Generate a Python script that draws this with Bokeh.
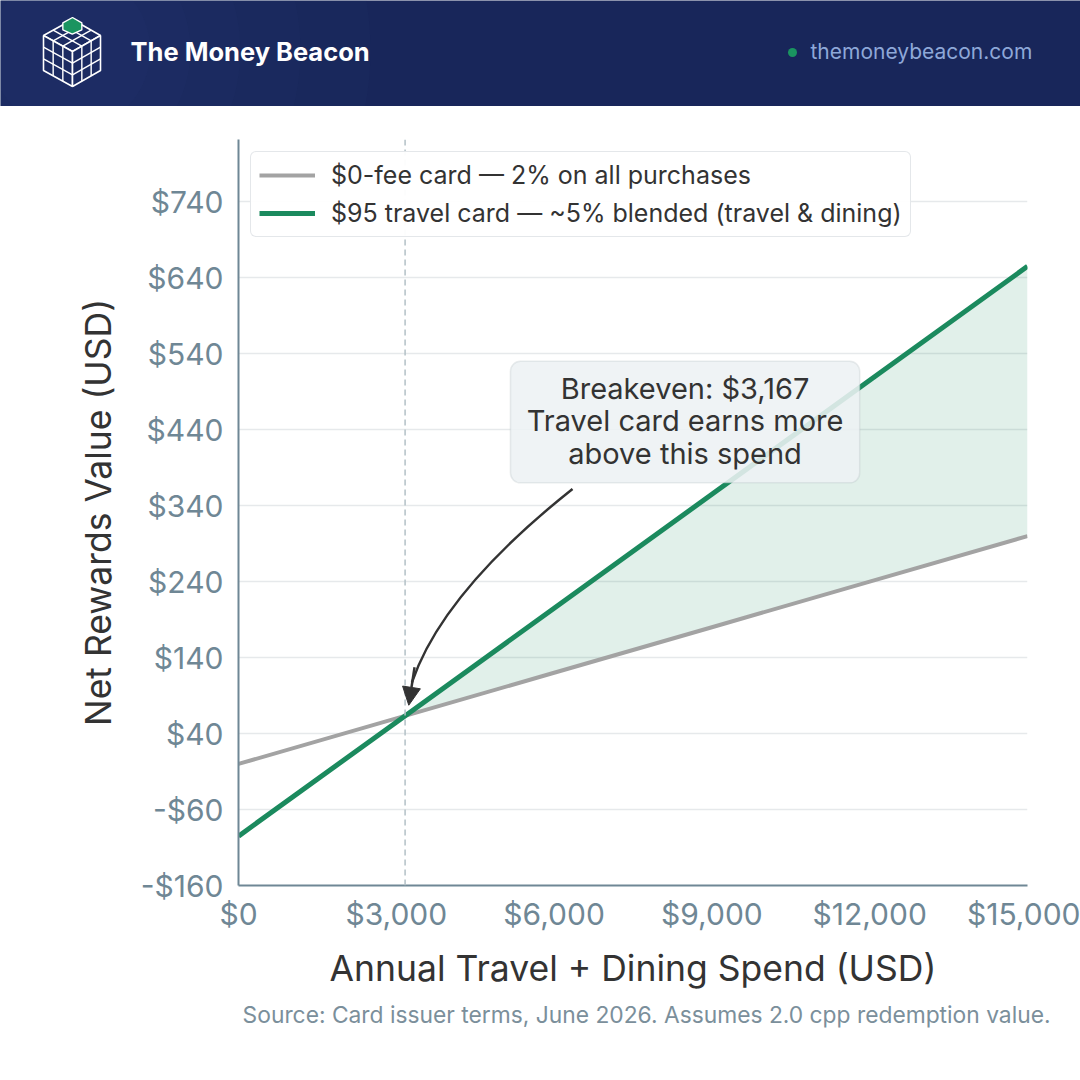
from bokeh.embed import file_html
from bokeh.layouts import column, row
from bokeh.models import (Arrow, BoxAnnotation, FixedTicker, Label, Legend,
                          LegendItem, NormalHead, NumeralTickFormatter, Range1d, Span, Title)
from bokeh.plotting import figure
from bokeh.resources import INLINE

# data
spend = [0, 3000, 6000, 9000, 12000, 15000]
flat_card = [0, 60, 120, 180, 240, 300]
travel_card = [-95, 55, 205, 355, 505, 655]
breakeven_spend = 3167
breakeven_value = 63.3
x_ticks = [0, 3000, 6000, 9000, 12000, 15000]
y_ticks = [-160, -60, 40, 140, 240, 340, 440, 540, 640, 740]

FONT = "Inter"
NAVY = "#18265a"
GREEN = "#1b8a5e"
GRAY = "#a3a3a3"
SLATE = "#6f8795"

# ---------- header ----------
h = figure(width=1080, height=106, x_range=Range1d(0, 1080), y_range=Range1d(106, 0),
           toolbar_location=None, output_backend="svg", min_border=0)
h.axis.visible = False
h.grid.visible = False
h.outline_line_color = None
h.background_fill_color = NAVY
h.border_fill_color = NAVY
for r in [300, 230, 170, 120, 80]:
    h.circle(x=[70], y=[50], radius=r, fill_color="#3a4a80", fill_alpha=0.05, line_color=None)

# isometric cube logo (header pixel coords)
T, L, R, C = (72, 19), (43, 35), (100, 35), (72, 51)
BL, BR, B = (43, 70), (100, 70), (72, 86)


def lerp(a, b, t):
    return (a[0] + (b[0] - a[0]) * t, a[1] + (b[1] - a[1]) * t)


faces = [(T, R, C, L), (L, C, B, BL), (C, R, BR, B)]
for f in faces:
    h.patch([p[0] for p in f], [p[1] for p in f], fill_color="#1c2b62", line_color="white", line_width=1.6)
xs, ys = [], []
for (p0, p1, p2, p3) in faces:
    for k in (1, 2):
        a, b = lerp(p0, p3, k / 3), lerp(p1, p2, k / 3)
        xs.append([a[0], b[0]]); ys.append([a[1], b[1]])
        a, b = lerp(p0, p1, k / 3), lerp(p3, p2, k / 3)
        xs.append([a[0], b[0]]); ys.append([a[1], b[1]])
h.multi_line(xs, ys, line_color="white", line_width=1.4)
g1, g2, g3 = lerp(T, R, 1 / 3), lerp(T, L, 1 / 3), lerp(lerp(T, R, 1 / 3), lerp(L, C, 1 / 3), 1 / 3)
gx = [T[0], g1[0], g1[0], g3[0], g2[0], g2[0]]
gy = [T[1] - 2, g1[1] - 2, g1[1] + 5, g3[1] + 4, g2[1] + 5, g2[1] - 2]
h.patch(gx, gy, fill_color="#1a9460", line_color="white", line_width=1.4)

h.add_layout(Label(x=130, y=51, text="The Money Beacon", text_color="white", text_font=FONT,
                   text_font_style="bold", text_font_size="25.5px", text_baseline="middle"))
h.scatter(x=[792], y=[52], size=9, marker="circle", fill_color="#1a9460", line_color=None)
h.add_layout(Label(x=810, y=51, text="themoneybeacon.com", text_color="#8ea8d8", text_font=FONT,
                   text_font_size="21px", text_baseline="middle"))

# ---------- main chart ----------
p = figure(width=1080, height=974, x_range=Range1d(0, 15000), y_range=Range1d(-160, 822),
           toolbar_location=None, output_backend="svg",
           min_border_left=238, min_border_right=53, min_border_top=33, min_border_bottom=195)
p.outline_line_color = None
p.background_fill_color = "white"
p.border_fill_color = "white"
p.xgrid.visible = False
p.ygrid.ticker = FixedTicker(ticks=y_ticks)
p.ygrid.grid_line_color = "#e6e9eb"
p.ygrid.grid_line_width = 1.5

p.xaxis.ticker = FixedTicker(ticks=x_ticks)
p.yaxis.ticker = FixedTicker(ticks=y_ticks)
p.xaxis.formatter = NumeralTickFormatter(format="$0,0")
p.yaxis.formatter = NumeralTickFormatter(format="$0,0")
for ax in (p.xaxis, p.yaxis):
    ax.axis_line_color = SLATE
    ax.axis_line_width = 2
    ax.major_tick_line_color = None
    ax.minor_tick_line_color = None
    ax.major_label_text_color = SLATE
    ax.major_label_text_font = FONT
    ax.major_label_text_font_size = "30px"
    ax.axis_label_text_font = FONT
    ax.axis_label_text_font_size = "35.5px"
    ax.axis_label_text_color = "#333333"
    ax.axis_label_text_font_style = "normal"
p.xaxis.axis_label = "Annual Travel + Dining Spend (USD)"
p.yaxis.axis_label = "Net Rewards Value (USD)"
p.xaxis.major_label_standoff = 4
p.yaxis.major_label_standoff = 9
p.xaxis.axis_label_standoff = 12
p.yaxis.axis_label_standoff = 18

# shaded advantage region above breakeven
fill_x = [breakeven_spend] + [s for s in spend if s > breakeven_spend]
fill_lo = [breakeven_value] + [v for s, v in zip(spend, flat_card) if s > breakeven_spend]
fill_hi = [breakeven_value] + [v for s, v in zip(spend, travel_card) if s > breakeven_spend]
p.varea(x=fill_x, y1=fill_lo, y2=fill_hi, fill_color=GREEN, fill_alpha=0.13)

p.add_layout(Span(location=breakeven_spend, dimension="height", line_color="#b3c0c6",
                  line_dash="6 4", line_width=1.5))

r_flat = p.line(spend, flat_card, line_color=GRAY, line_width=4)
r_travel = p.line(spend, travel_card, line_color=GREEN, line_width=5)

legend = Legend(items=[LegendItem(label="$0-fee card — 2% on all purchases", renderers=[r_flat]),
                       LegendItem(label="$95 travel card — ~5% blended (travel & dining)", renderers=[r_travel])],
                location="top_left", margin=12, padding=8, spacing=8, glyph_width=56,
                glyph_height=20, label_standoff=16, label_text_font=FONT,
                label_text_font_size="25px", label_text_color="#333333",
                border_line_color="#c9d0d5", border_line_width=1.5, border_radius=6,
                background_fill_alpha=0.95)
p.add_layout(legend)

# annotation box and curved arrow
p.add_layout(BoxAnnotation(left=5170, right=11810, bottom=370, top=530, fill_color="#edf1f4",
                           fill_alpha=0.88, line_color="#b7bfc5", line_width=1.5, border_radius=10))
p.add_layout(Label(x=8490, y=452, text="Breakeven: $3,167\nTravel card earns more\nabove this spend",
                   text_align="center", text_baseline="middle", text_font=FONT,
                   text_font_size="29px", text_color="#333333", text_line_height=0.93))
ax0, ay0 = 6350, 362
cx, cy = 3880, 226
ax1, ay1 = breakeven_spend + 70, breakeven_value + 14
p.quadratic(x0=[ax0], y0=[ay0], x1=[ax1 + 60], y1=[ay1 + 30], cx=[cx], cy=[cy],
            line_color="#333333", line_width=2.5)
p.add_layout(Arrow(end=NormalHead(size=18, fill_color="#333333", line_color="#333333"),
                   x_start=ax1 + 110, y_start=ay1 + 50, x_end=ax1, y_end=ay1,
                   line_color="#333333", line_width=2.5))

p.add_layout(Title(text="Source: Card issuer terms, June 2026. Assumes 2.0 cpp redemption value.",
                   align="right", offset=-23, standoff=12, text_font=FONT, text_font_size="22.8px",
                   text_font_style="normal", text_color="#7b8f9b"), "below")

layout = column(row(h), p, spacing=0)
open("out.html", "w").write(file_html(layout, INLINE))
